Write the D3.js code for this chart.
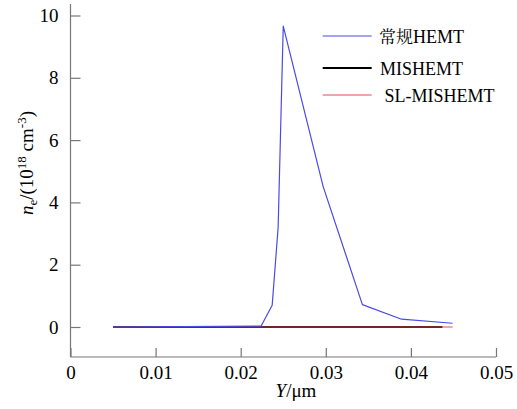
<!DOCTYPE html>
<html>
<head>
<meta charset="utf-8">
<script src="https://cdn.jsdelivr.net/npm/d3@7"></script>
<style>
  html, body { margin: 0; padding: 0; background: #fff; font-family: "Liberation Serif"; }
</style>
</head>
<body>
<svg id="chart" width="517" height="409" font-family="Liberation Serif"></svg>
<script>
// Electron density along Y for three device structures
const seriesNames = ["常规HEMT", "MISHEMT", "SL-MISHEMT"];
const seriesColors = ["#4a4ae8", "#000000", "#d9534f"];

const hemtY = [0.005, 0.0224, 0.0237, 0.0244, 0.0250, 0.0297, 0.0343, 0.0389, 0.0449];
const hemtN = [0, 0.03, 0.7, 3.2, 9.66, 4.5, 0.72, 0.25, 0.12];

const misY = [0.005, 0.0437];
const misN = [0, 0];

const slY = [0.005, 0.0449];
const slN = [0, 0];

const xTicks = [0, 0.01, 0.02, 0.03, 0.04, 0.05];
const yTicks = [0, 2, 4, 6, 8, 10];

const svg = d3.select("#chart");
const plotLeft = 70.5, plotRight = 496, plotTop = 4, plotBottom = 357;

const x = d3.scaleLinear().domain([0, 0.05]).range([plotLeft, plotRight]);
const y = d3.scaleLinear().domain([0, 10]).range([327, 15.5]);

// axes with inward ticks
const axisColor = "#777";
const gx = svg.append("g").attr("transform", `translate(0,${plotBottom})`)
  .call(d3.axisBottom(x).tickValues(xTicks).tickSizeInner(-9).tickSizeOuter(0)
        .tickFormat(d => d === 0 ? "0" : d3.format(".2f")(d)));
gx.select(".domain").attr("d", `M${plotLeft},0H${plotRight}`);
gx.selectAll(".tick text").attr("y", 22).attr("dy", 0);

const gy = svg.append("g").attr("transform", `translate(${plotLeft},0)`)
  .call(d3.axisLeft(y).tickValues(yTicks).tickSizeInner(-10).tickSizeOuter(0));
gy.select(".domain").attr("d", `M0,${plotTop}V${plotBottom}`);
gy.selectAll(".tick text").attr("x", -12);

// let the axis groups inherit the svg's serif face
[gx, gy].forEach(g => g.attr("font-family", null).attr("font-size", 19));
svg.selectAll(".tick text").attr("fill", "#000");
svg.selectAll(".domain, .tick line").attr("stroke", axisColor).attr("stroke-width", 1.2);

// axis titles
svg.append("text").attr("x", 296).attr("y", 397).attr("text-anchor", "middle")
  .attr("font-size", 19)
  .html('<tspan font-style="italic">Y</tspan><tspan>/μm</tspan>');

svg.append("text").attr("transform", "translate(33,163) rotate(-90)")
  .attr("text-anchor", "middle").attr("font-size", 19)
  .html('<tspan font-style="italic">n</tspan><tspan font-size="13" dy="4">e</tspan><tspan dy="-4">/(10</tspan><tspan font-size="13" dy="-7">18</tspan><tspan dy="7"> cm</tspan><tspan font-size="13" dy="-7">-3</tspan><tspan dy="7">)</tspan>');

// curves
const line = d3.line().x(d => x(d[0])).y(d => y(d[1]));
const series = [
  { xs: misY, ys: misN, color: seriesColors[1], w: 2 },
  { xs: slY, ys: slN, color: seriesColors[2], w: 1.2 },
  { xs: hemtY, ys: hemtN, color: seriesColors[0], w: 1.2 }
];
series.forEach(s => {
  svg.append("path").datum(d3.zip(s.xs, s.ys))
    .attr("fill", "none").attr("stroke", s.color).attr("stroke-width", s.w)
    .attr("stroke-linejoin", "round").attr("d", line);
});

// legend
const legendRows = [
  { name: seriesNames[0], color: seriesColors[0], w: 1.2, ty: 36, tx: 379 },
  { name: seriesNames[1], color: seriesColors[1], w: 2, ty: 68, tx: 380 },
  { name: " " + seriesNames[2], color: seriesColors[2], w: 1.2, ty: 95, tx: 380 }
];
legendRows.forEach(r => {
  svg.append("line").attr("x1", 322.7).attr("x2", 371.7).attr("y1", r.ty).attr("y2", r.ty)
    .attr("stroke", r.color).attr("stroke-width", r.w);
  const t = svg.append("text").attr("x", r.tx).attr("y", r.ty + 6.5)
    .attr("font-size", 18).attr("xml:space", "preserve");
  if (r.name.startsWith("常规")) {
    t.append("tspan").attr("font-family", "Noto Serif CJK SC").attr("font-size", 17).text("常规");
    t.append("tspan").text(r.name.slice(2));
  } else {
    t.text(r.name);
  }
});
</script>
</body>
</html>
